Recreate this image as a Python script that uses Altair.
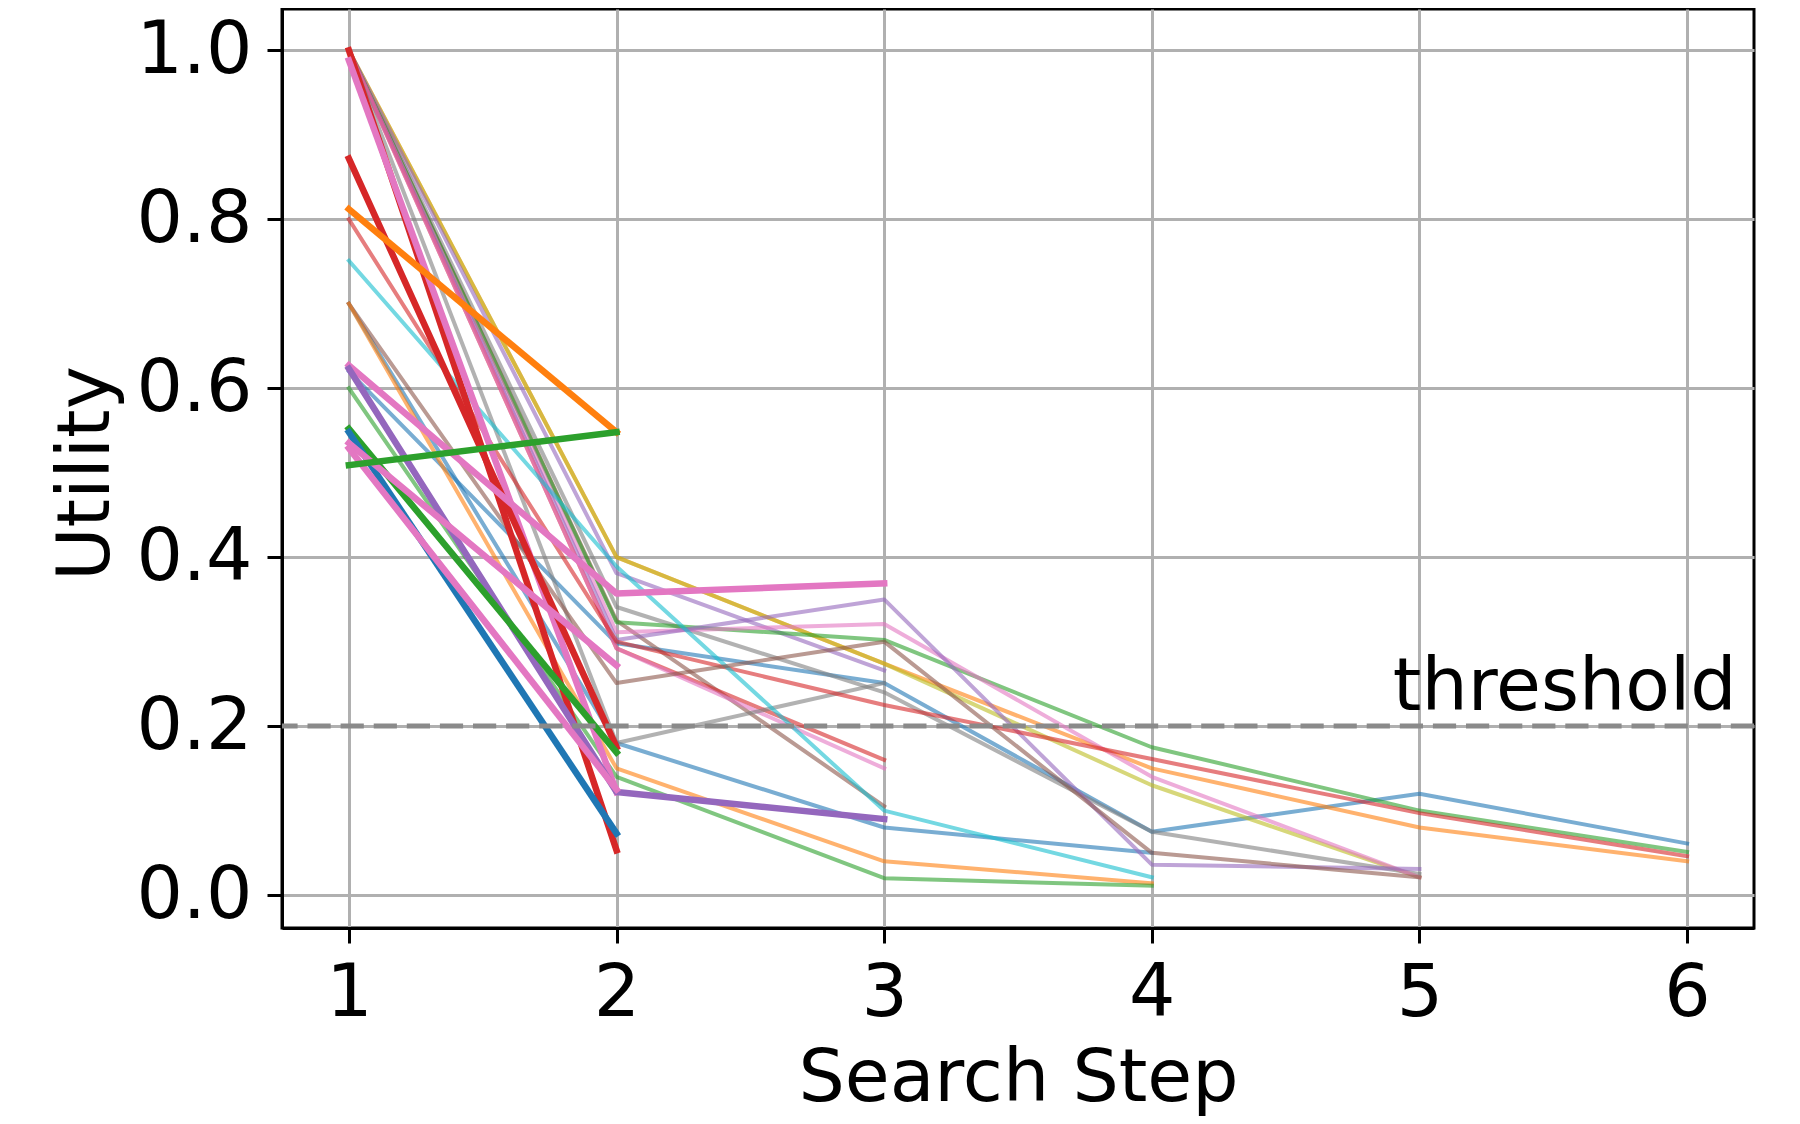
import altair as alt
import pandas as pd

# ---------------- data (utility per search step, step 1..n) ----------------
# thin (semi-transparent) runs
t_blue_a   = [0.70, 0.180, 0.080, 0.050]
t_blue_b   = [0.62, 0.298, 0.251, 0.075, 0.120, 0.061]
t_orange_a = [1.00, 0.400, 0.274, 0.150, 0.080, 0.040]
t_olive    = [1.00, 0.400, 0.274, 0.130, 0.021]
t_lav_a    = [1.00, 0.381, 0.266]
t_gray_a   = [1.00, 0.341, 0.240, 0.075, 0.025]
t_brown_a  = [1.00, 0.325, 0.105]
t_green_a  = [1.00, 0.323, 0.302, 0.175, 0.100, 0.051]
t_pink_a   = [1.00, 0.311, 0.321, 0.140, 0.021]
t_lav_b    = [1.00, 0.302, 0.350, 0.036, 0.031]
t_red_a    = [1.00, 0.292, 0.160]
t_pink_b   = [1.00, 0.292, 0.150]
t_gray_b   = [1.00, 0.180, 0.251]
t_red_b    = [0.80, 0.300, 0.225, 0.161, 0.097, 0.046]
t_cyan     = [0.751, 0.389, 0.100, 0.021]
t_brown_b  = [0.70, 0.251, 0.300, 0.050, 0.021]
t_orange_b = [0.70, 0.150, 0.040, 0.014]
t_green_b  = [0.60, 0.140, 0.020, 0.011]

# thick (opaque) runs
k_red_a   = [1.00, 0.053]
k_pink_a  = [0.988, 0.122]
k_red_b   = [0.872, 0.175]
k_orange  = [0.812, 0.548]
k_pink_b  = [0.627, 0.357, 0.369]
k_purple  = [0.623, 0.122, 0.090]
k_green_a = [0.552, 0.169]
k_blue    = [0.548, 0.073]
k_pink_c  = [0.535, 0.272]
k_pink_d  = [0.529, 0.125]
k_green_b = [0.509, 0.548]

threshold_value = 0.2
threshold_label = "threshold"
x_ticks = [1, 2, 3, 4, 5, 6]
y_ticks = [0.0, 0.2, 0.4, 0.6, 0.8, 1.0]

# ---------------- styles ----------------
TAB = {"blue": "#1f77b4", "orange": "#ff7f0e", "green": "#2ca02c", "red": "#d62728",
       "purple": "#9467bd", "brown": "#8c564b", "pink": "#e377c2", "gray": "#7f7f7f",
       "olive": "#bcbd22", "cyan": "#17becf"}

thin_series = [t_blue_a, t_blue_b, t_orange_a, t_olive, t_lav_a, t_gray_a, t_brown_a,
               t_green_a, t_pink_a, t_lav_b, t_red_a, t_pink_b, t_gray_b, t_red_b,
               t_cyan, t_brown_b, t_orange_b, t_green_b]
thin_colors = ["blue", "blue", "orange", "olive", "purple", "gray", "brown",
               "green", "pink", "purple", "red", "pink", "gray", "red",
               "cyan", "brown", "orange", "green"]
thick_series = [k_red_a, k_pink_a, k_red_b, k_orange, k_pink_b, k_purple,
                k_green_a, k_blue, k_pink_c, k_pink_d, k_green_b]
thick_colors = ["red", "pink", "red", "orange", "pink", "purple",
                "green", "blue", "pink", "pink", "green"]


def build(series, prefix):
    rows = []
    for i, vals in enumerate(series):
        for s, v in enumerate(vals, start=1):
            rows.append({"run": f"{prefix}{i:02d}", "step": s, "utility": v})
    return pd.DataFrame(rows)


df_thin = build(thin_series, "a")
df_thick = build(thick_series, "b")

domain = [f"a{i:02d}" for i in range(len(thin_series))] + [f"b{i:02d}" for i in range(len(thick_series))]
rng = [TAB[c] for c in thin_colors] + [TAB[c] for c in thick_colors]

FONT = "DejaVu Sans"
W, H = 1472, 919

X = alt.X("step:Q",
          scale=alt.Scale(domain=[0.75, 6.25], nice=False, zero=False),
          axis=alt.Axis(values=x_ticks, format="d", title="Search Step",
                        labelPadding=14.5, labelFlush=False, labelOverlap=False,
                        titleBaseline="alphabetic", titleAnchor="middle",
                        titleX=W / 2, titleY=172))
Y = alt.Y("utility:Q",
          scale=alt.Scale(domain=[-0.039, 1.049], nice=False, zero=False),
          axis=alt.Axis(values=y_ticks, format=".1f", title="Utility",
                        labelPadding=15, labelFlush=False, labelOverlap=False,
                        titleAngle=270, titleBaseline="alphabetic", titleAlign="center",
                        titleX=-174, titleY=464))
C = alt.Color("run:N", scale=alt.Scale(domain=domain, range=rng), legend=None)

thin = alt.Chart(df_thin).mark_line(
    strokeWidth=4.0, strokeOpacity=0.6, strokeCap="square", strokeJoin="round"
).encode(x=X, y=Y, color=C, order="step:Q")

thick = alt.Chart(df_thick).mark_line(
    strokeWidth=6.5, strokeCap="square", strokeJoin="round"
).encode(x=X, y=Y, color=C, order="step:Q")

one = pd.DataFrame({"v": [threshold_value]})
rule = alt.Chart(one).mark_rule(
    color="#8a8a8a", strokeWidth=5, strokeDash=[23.2, 9.9]
).encode(y=alt.datum(threshold_value))

label = alt.Chart(one).mark_text(
    text=threshold_label, align="right", baseline="alphabetic", dy=-16,
    fontSize=73, font=FONT, color="black"
).encode(x=alt.datum(6.185), y=alt.datum(threshold_value))

chart = alt.layer(thin, thick, rule, label).properties(
    width=W, height=H,
    autosize=alt.AutoSizeParams(type="none"),
    padding={"left": 274, "top": 1, "right": 38, "bottom": 188},
).configure_axis(
    labelFont=FONT, titleFont=FONT, labelFontSize=73, titleFontSize=73,
    titleFontWeight="normal", labelColor="black", titleColor="black",
    domainColor="black", domainWidth=3, tickColor="black", tickWidth=3, tickSize=15,
    gridColor="#b0b0b0", gridWidth=3, gridOpacity=1,
).configure_view(stroke="black", strokeWidth=3)

chart.save("out.html", embed_options={"renderer": "svg", "actions": False})
